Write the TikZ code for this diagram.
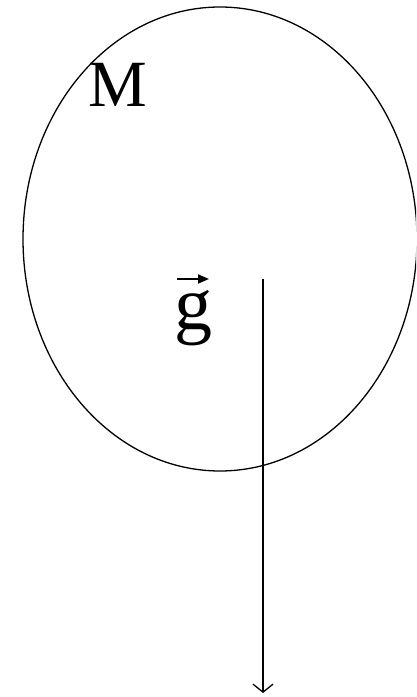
\documentclass[tikz,border=0pt]{standalone}
\usepackage{fontspec}
\setmainfont{Liberation Serif}
\usetikzlibrary{arrows.meta}
\begin{document}
\begin{tikzpicture}[x=1pt,y=1pt,
  outline/.style={line width=1.3pt},
  lbl/.style={inner sep=0pt,anchor=base,font=\fontsize{66}{66}\selectfont}]
\useasboundingbox (0,0) rectangle (416,697);
\begin{scope}
\clip (0,0) rectangle (416,697);
\draw[outline] (220,458) ellipse [x radius=197, y radius=232];
\end{scope}
\node[lbl] (M) at (118,590) {M};
\node[lbl,font=\fontsize{76}{76}\selectfont] (g) at (193,367) {g};
\coordinate (va) at (177,418);
\coordinate (vb) at (209,418);
\draw[line width=1.8pt,-{Triangle[length=11pt,width=9pt]}] (va) -- (vb);
\coordinate (top) at (263,418);
\coordinate (bot) at (263,4);
\draw[line width=1.3pt,-{Straight Barb[length=8pt,width=20pt,line width=1.3pt]}] (top) -- (bot);
\end{tikzpicture}
\end{document}
